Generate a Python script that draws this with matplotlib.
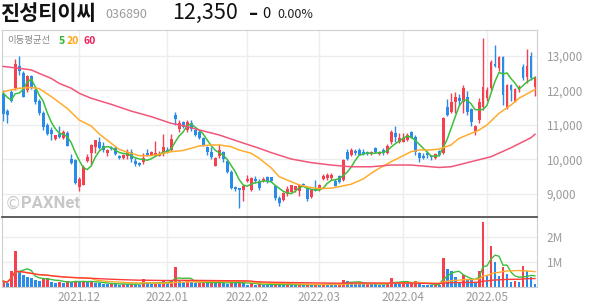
import numpy as np
import pandas as pd
import matplotlib
matplotlib.use("Agg")
import matplotlib.pyplot as plt

plt.rcParams['font.family'] = ['Noto Sans CJK KR', 'DejaVu Sans']

# ---------------- data ----------------
opens = [11900, 11400, 11950, 12060, 12700, 12500, 12000, 12400, 12000, 11700,
         11350, 11000, 10850, 10580, 10740, 10620, 10780, 10000, 9980, 9200,
         9270, 9950, 10180, 10370, 10510, 10400, 10180, 10340, 10330, 10110,
         10050, 10110, 10210, 9960, 9910, 9940, 10180, 10140, 10120, 10110,
         10150, 10280, 10280, 11290, 10890, 11080, 10850, 11050, 10860, 10790,
         10610, 10370, 10230, 9820, 10110, 10210, 9960, 9630, 9200, 9180,
         9130, 9370, 9120, 9450, 9380, 9380, 9500, 9480, 9220, 8900,
         8830, 9000, 9070, 9120, 9100, 9290, 9170, 8930, 9150, 9120,
         9440, 9460, 9470, 9390, 9510, 9410, 10210, 10130, 10240, 10270,
         10230, 10220, 10160, 10340, 10170, 10270, 10200, 10510, 10780, 10520,
         10520, 10570, 10790, 10660, 10180, 10110, 10200, 10110, 10040, 10240,
         10180, 11530, 11380, 11670, 11770, 11650, 11820, 11460, 10830, 11140,
         11530, 11780, 12060, 12750, 12640, 12970, 11530, 12150, 11700, 12000,
         12680, 12390, 13000, 12100]
highs = [12000, 11450, 12000, 12900, 12980, 12550, 12450, 12450, 12100, 11750,
         11400, 11050, 10950, 10720, 10960, 10850, 10820, 10150, 10000, 9500,
         9830, 10170, 10450, 10570, 10660, 10510, 10300, 10380, 10400, 10130,
         10160, 10310, 10300, 10050, 9930, 10180, 10290, 10250, 10530, 10250,
         10740, 10370, 10740, 11370, 11140, 11110, 11140, 11150, 10880, 10860,
         10640, 10380, 10360, 10070, 10440, 10240, 9990, 9700, 9220, 9190,
         9250, 9560, 9500, 9530, 9430, 9480, 9530, 9500, 9260, 8950,
         9060, 9230, 9270, 9240, 9280, 9310, 9200, 9140, 9410, 9280,
         9570, 9600, 9600, 9430, 9550, 10000, 10300, 10340, 10300, 10330,
         10300, 10260, 10260, 10350, 10250, 10320, 10440, 10850, 10980, 10760,
         10770, 10780, 10810, 10700, 10230, 10200, 10260, 10140, 10190, 10270,
         11230, 11760, 11910, 11960, 11900, 12150, 11970, 11500, 11000, 11780,
         13520, 12100, 12870, 13310, 13000, 13000, 12170, 12170, 12080, 12150,
         12750, 13180, 13100, 12400]
lows = [11100, 11050, 11650, 12000, 12450, 11800, 11950, 12050, 11600, 11300,
        10850, 10700, 10570, 10550, 10630, 10600, 10380, 9880, 9300, 9100,
        9250, 9930, 9850, 10200, 10300, 10230, 10100, 10280, 10120, 10010,
        10010, 10010, 9940, 9800, 9800, 9860, 10090, 10120, 10100, 10100,
        10100, 10180, 10250, 11000, 10800, 10900, 10800, 10810, 10680, 10590,
        10380, 10130, 10010, 9800, 10050, 9940, 9600, 9150, 9100, 8610,
        8800, 9340, 9100, 9320, 9130, 9350, 9320, 9350, 8830, 8670,
        8800, 8950, 9050, 9060, 8950, 9230, 8800, 8900, 9080, 9100,
        9400, 9420, 9420, 9220, 9330, 9380, 9990, 10100, 10130, 10120,
        10120, 10130, 10120, 10190, 10140, 10120, 10170, 10450, 10520, 10490,
        10500, 10530, 10610, 10130, 9940, 10020, 10050, 9990, 10020, 10100,
        10150, 11260, 11330, 11350, 11580, 11340, 11280, 10960, 10710, 11060,
        11430, 11700, 12000, 12660, 12550, 11580, 11460, 11680, 11650, 11950,
        12300, 12200, 12300, 11830]
closes = [11320, 11300, 11680, 12750, 12550, 11820, 12400, 12100, 11650, 11330,
          10950, 10750, 10750, 10700, 10650, 10800, 10400, 9900, 9320, 9450,
          9790, 10080, 10420, 10560, 10340, 10280, 10270, 10300, 10150, 10030,
          10120, 10230, 10020, 9860, 9850, 10050, 10110, 10230, 10180, 10170,
          10370, 10210, 10590, 11180, 11050, 10950, 11080, 10880, 10710, 10630,
          10400, 10210, 10060, 10050, 10280, 10020, 9630, 9180, 9150, 9130,
          9230, 9450, 9460, 9380, 9180, 9450, 9390, 9380, 8880, 8740,
          9030, 9150, 9260, 9220, 9250, 9260, 8860, 9120, 9100, 9260,
          9510, 9540, 9540, 9240, 9360, 9990, 10020, 10280, 10180, 10140,
          10160, 10170, 10230, 10210, 10230, 10180, 10380, 10800, 10660, 10610,
          10610, 10710, 10630, 10230, 10050, 10050, 10130, 10060, 10170, 10140,
          11210, 11290, 11670, 11820, 11700, 12060, 11380, 11090, 10980, 11670,
          12100, 12000, 12830, 12690, 12970, 11870, 12150, 12010, 12050, 12100,
          12360, 12700, 12350, 12350]
volumes_m = [0.23, 0.16, 0.65, 1.43, 0.63, 0.50, 0.42, 0.35, 0.30, 0.26,
             0.36, 0.38, 0.20, 0.16, 0.22, 0.18, 0.24, 0.20, 0.26, 0.20,
             0.22, 0.20, 0.24, 0.18, 0.15, 0.13, 0.12, 0.14, 0.12, 0.10,
             0.12, 0.11, 0.13, 0.11, 0.10, 0.32, 0.15, 0.12, 0.14, 0.12,
             0.30, 0.20, 0.26, 0.80, 0.25, 0.22, 0.24, 0.20, 0.15, 0.17,
             0.20, 0.16, 0.18, 0.15, 0.20, 0.16, 0.14, 0.20, 0.17, 0.20,
             0.15, 0.10, 0.15, 0.10, 0.12, 0.10, 0.09, 0.08, 0.12, 0.10,
             0.08, 0.10, 0.09, 0.08, 0.10, 0.07, 0.10, 0.08, 0.11, 0.09,
             0.14, 0.12, 0.10, 0.09, 0.10, 0.30, 0.25, 0.20, 0.15, 0.14,
             0.12, 0.15, 0.13, 0.12, 0.10, 0.09, 0.16, 0.36, 0.20, 0.15,
             0.20, 0.16, 0.18, 0.24, 0.12, 0.10, 0.09, 0.08, 0.09, 0.08,
             1.16, 0.72, 0.65, 0.40, 0.22, 0.49, 0.30, 0.28, 0.22, 0.65,
             2.60, 0.49, 1.63, 0.99, 0.45, 0.79, 0.53, 0.20, 0.24, 0.20,
             0.85, 0.63, 0.40, 0.13]

# moving-average lines (candle index, price)
ma5_head_idx = [0, 1, 2, 3]
ma5_head_val = [11920, 11800, 11720, 11900]
ma20_idx = [0, 4, 7, 9, 12, 16, 19, 22, 24, 27, 29, 32, 34, 37, 39, 42, 45, 47, 49,
            52, 54, 57, 59, 62, 64, 67, 69, 72, 74, 77, 79, 82, 84, 87, 90, 92, 94,
            97, 99, 102, 104, 107, 109, 112, 114, 117, 119, 121, 124, 127, 129, 132, 133]
ma20_val = [11960, 12060, 12080, 12050, 11820, 11480, 11140, 10970, 10740, 10470,
            10290, 10180, 10110, 10110, 10150, 10225, 10260, 10325, 10390, 10420,
            10420, 10370, 10275, 10180, 10035, 9760, 9505, 9360, 9265, 9190, 9160,
            9170, 9215, 9285, 9435, 9600, 9745, 9935, 10050, 10225, 10275, 10280,
            10300, 10420, 10610, 10755, 10850, 11000, 11335, 11575, 11770, 11960, 12020]
ma60_idx = [0, 4, 7, 9, 12, 14, 17, 19, 22, 27, 32, 37, 42, 45, 49, 54, 59, 64, 67,
            72, 77, 82, 87, 92, 97, 102, 107, 109, 112, 117, 122, 127, 132, 133]
ma60_val = [12690, 12635, 12590, 12490, 12345, 12200, 12060, 11915, 11770, 11595,
            11400, 11240, 11045, 10980, 10855, 10710, 10515, 10325, 10200, 10015,
            9910, 9840, 9790, 9790, 9840, 9840, 9790, 9770, 9790, 9935, 10080,
            10340, 10630, 10730]

holidays = ['2021-12-31', '2022-01-31', '2022-02-01', '2022-02-02',
            '2022-03-01', '2022-03-09', '2022-05-05']
price_ticks = [9000, 10000, 11000, 12000, 13000]
vol_ticks = [1, 2]
vol_tick_labels = ['1M', '2M']

# ---------------- derived ----------------
n = len(closes)
dates = pd.bdate_range('2021-11-04', '2022-06-30')
dates = dates[~dates.isin(pd.to_datetime(holidays))][:n]
months = pd.Series(dates.month)
month_idx = [i for i in range(1, n) if months[i] != months[i - 1]]
month_lbl = [dates[i].strftime('%Y.%m') for i in month_idx]

o = np.array(opens, float); h = np.array(highs, float)
l = np.array(lows, float); c = np.array(closes, float)
v = np.array(volumes_m, float)
x = np.arange(n)
ma5 = pd.Series(c).rolling(5).mean()
ma5[ma5_head_idx] = ma5_head_val
vma5 = pd.Series(v).rolling(5, min_periods=1).mean()
vma20 = pd.Series(v).rolling(20, min_periods=1).mean()
vma60 = pd.Series(v).rolling(60, min_periods=1).mean()

RED = '#f4404f'
BLUE = '#2b8be8'
GREEN = '#3cbf3c'
ORANGE = '#ffac2e'
PINK = '#f2557a'
GRID = '#ededed'
TXT = '#9a9a9a'

W, H = 594, 304
fig = plt.figure(figsize=(W / 100, H / 100), dpi=100)
ax = fig.add_axes([2 / W, 1 - 217 / H, 535 / W, 187 / H])
axv = fig.add_axes([2 / W, 1 - 287 / H, 535 / W, 70 / H], sharex=ax)

# grids
for t in price_ticks:
    ax.axhline(t, color=GRID, lw=1, zorder=0)
for mi in month_idx:
    ax.axvline(mi, color=GRID, lw=1, zorder=0)
    axv.axvline(mi, color=GRID, lw=1, zorder=0)
for t in vol_ticks:
    axv.axhline(t, color=GRID, lw=1, zorder=0)

# candles
up = c >= o
cols = np.where(up, RED, BLUE)
ax.vlines(x, l, h, colors=cols, lw=1, zorder=2)
body_lo = np.minimum(o, c)
body_h = np.maximum(np.abs(c - o), 20)
ax.bar(x, body_h, bottom=body_lo, width=0.74, color=cols, edgecolor='none', zorder=3)

ax.plot(x, ma5, color=GREEN, lw=1.1, zorder=4)
ax.plot(ma20_idx, ma20_val, color=ORANGE, lw=1.1, zorder=4)
ax.plot(ma60_idx, ma60_val, color=PINK, lw=1.1, zorder=4)

# volume
vup = np.concatenate([[True], v[1:] >= v[:-1]])
vcols = np.where(vup, RED, BLUE)
axv.bar(x, v, width=0.74, color=vcols, edgecolor='none', zorder=2)
axv.plot(x, vma5, color=GREEN, lw=1, zorder=3)
axv.plot(x, vma20, color=ORANGE, lw=1, zorder=3)
axv.plot(x, vma60, color='#ff3b3b', lw=1, zorder=3)

ax.set_xlim(-0.3, 133.5)
ax.set_ylim(8338, 13743)
axv.set_ylim(0, 2.8)

# axes styling
ax.yaxis.tick_right()
ax.set_yticks(price_ticks)
ax.set_yticklabels([f'{t:,}' for t in price_ticks])
ax.tick_params(axis='y', length=0, pad=7, labelsize=8.5, labelcolor=TXT)
ax.tick_params(axis='x', bottom=False, labelbottom=False)
axv.yaxis.tick_right()
axv.set_yticks(vol_ticks)
axv.set_yticklabels(vol_tick_labels)
axv.tick_params(axis='y', length=0, pad=7, labelsize=8.5, labelcolor=TXT)
axv.set_xticks(month_idx)
axv.set_xticklabels(month_lbl)
axv.tick_params(axis='x', length=0, pad=3, labelsize=8.5, labelcolor=TXT)

for s in ['left', 'top', 'right']:
    ax.spines[s].set_color('#cfcfcf')
ax.spines['bottom'].set_color('#444444')
ax.spines['bottom'].set_linewidth(1.2)
for s in ['left', 'right', 'bottom']:
    axv.spines[s].set_color('#cfcfcf')
axv.spines['top'].set_visible(False)
ax.set_zorder(2)

# watermark
ax.text(0.006, 0.07, '©', transform=ax.transAxes, fontsize=12, color='#cccccc',
        va='center', ha='left', family=['DejaVu Sans'])
ax.text(0.036, 0.07, 'PAXNet', transform=ax.transAxes, fontsize=12, color='#c8c8c8',
        va='center', ha='left', fontweight='bold', family=['Roboto', 'DejaVu Sans'])

# MA legend
fig.text(7 / W, 1 - 41 / H, '이동평균선', fontsize=6.8, color='#888888', va='center')
fig.text(59 / W, 1 - 41 / H, '5', fontsize=7.5, color='#2db82d', va='center',
         fontweight='bold')
fig.text(67 / W, 1 - 41 / H, '20', fontsize=7.5, color='#ffa31a', va='center',
         fontweight='bold')
fig.text(83 / W, 1 - 41 / H, '60', fontsize=7.5, color='#ee1f5a', va='center',
         fontweight='bold')

# header
fig.text(0 / W, 1 - 13 / H, '진성티이씨', fontsize=15, color='#111111', va='center',
         fontweight='bold')
fig.text(105 / W, 1 - 14 / H, '036890', fontsize=9, color=TXT, va='center')
fig.text(172 / W, 1 - 13 / H, '12,350', fontsize=15.5, color='#111111', va='center')
fig.text(249 / W, 1 - 14 / H, '–', fontsize=13, color='#111111', va='center',
         fontweight='bold', family=['DejaVu Sans'])
fig.text(262 / W, 1 - 14 / H, '0', fontsize=10.5, color='#111111', va='center')
fig.text(277 / W, 1 - 14 / H, '0.00%', fontsize=9, color='#222222', va='center')

fig.savefig('out.png', dpi=100)
